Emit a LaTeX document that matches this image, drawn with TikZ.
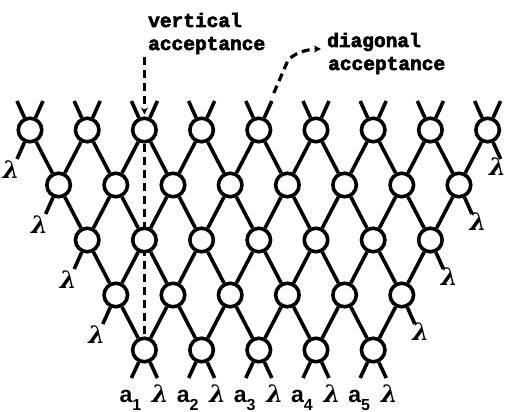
\documentclass[tikz,border=0pt]{standalone}
\usepackage{fontspec}
\usetikzlibrary{arrows.meta,calc}
\newfontfamily\annfont{Liberation Mono}[BoldFeatures={FakeBold=3}]
\newfontfamily\labfont{Liberation Sans}
\newfontfamily\lamfont{DejaVu Serif}
\pgfdeclarelayer{bg}
\pgfsetlayers{bg,main}
\tikzset{
  ball/.style={circle,draw=black,fill=white,line width=3.6pt,minimum size=23.5pt,inner sep=0pt},
  edge/.style={line width=3.6pt,black},
  acc/.style={line width=3.2pt,dash pattern=on 8pt off 5pt},
  ann/.style={font=\annfont\bfseries\fontsize{19.5}{23}\selectfont,inner sep=0pt,anchor=base west},
  lam/.style={font=\lamfont\bfseries\itshape\fontsize{24}{24}\selectfont,inner sep=0pt},
  alab/.style={font=\labfont\bfseries\fontsize{23}{23}\selectfont,inner sep=0pt,anchor=base},
  tip/.style={-{Stealth[length=7pt,width=7pt]}}
}
\begin{document}
\begin{tikzpicture}[x=1pt,y=-1pt]
\useasboundingbox (0,0) rectangle (506,412);
% circles
\foreach \r in {0,...,4}{
  \pgfmathtruncatemacro\kmax{8-\r}
  \foreach \k in {0,...,\kmax}{
    \node[ball] (n-\r-\k) at ({30+(\r/2+\k)*57.2},{130+55*\r}) {};
  }
}
% lattice
\foreach \r in {0,...,3}{
  \pgfmathtruncatemacro\kmax{8-\r}
  \pgfmathtruncatemacro\rn{\r+1}
  \foreach \k in {0,...,\kmax}{
    \pgfmathtruncatemacro\km{\k-1}
    \ifnum\k>0 \draw[edge] (n-\r-\k) -- (n-\rn-\km); \fi
    \ifnum\k<\kmax \draw[edge] (n-\r-\k) -- (n-\rn-\k); \fi
  }
}
% top stubs
\foreach \k in {0,...,8}{
  \coordinate (tl-\k) at ($(n-0-\k)+(-13,-29)$);
  \coordinate (tr-\k) at ($(n-0-\k)+(13,-29)$);
  \draw[edge] (n-0-\k) -- (tl-\k);
  \draw[edge] (n-0-\k) -- (tr-\k);
}
% side stubs and labels
\foreach \r in {0,...,3}{
  \pgfmathtruncatemacro\kmax{8-\r}
  \coordinate (ll-\r) at ($(n-\r-0)+(-13,29)$);
  \draw[edge] (n-\r-0) -- (ll-\r);
  \node[lam] (ll-lab-\r) at ($(n-\r-0)+(-19,40)$) {λ};
  \coordinate (rr-\r) at ($(n-\r-\kmax)+(13,29)$);
  \draw[edge] (n-\r-\kmax) -- (rr-\r);
}
\node[lam] (rr-lab-0) at ($(n-0-8)+(10,37)$) {λ};
\foreach \r in {1,...,3}{
  \pgfmathtruncatemacro\kmax{8-\r}
  \node[lam] (rr-lab-\r) at ($(n-\r-\kmax)+(19,37)$) {λ};
}
% bottom stubs and labels
\foreach \k in {0,...,4}{
  \pgfmathtruncatemacro\kk{\k+1}
  \coordinate (bl-\k) at ($(n-4-\k)+(-13,28)$);
  \coordinate (br-\k) at ($(n-4-\k)+(13,28)$);
  \draw[edge] (n-4-\k) -- (bl-\k);
  \draw[edge] (n-4-\k) -- (br-\k);
  \node[alab] (a-\k) at ($(n-4-\k)+(-14,52)$) {a\raisebox{-8pt}{\fontsize{16}{16}\selectfont\kk}};
  \node[lam,anchor=base] (bl-lab-\k) at ($(n-4-\k)+(16,52)$) {λ};
}
% annotations
\node[ann] (vt1) at (148,27) {vertical};
\node[ann] (vt2) at (148,50) {acceptance};
\node[ann] (dg1) at (327,47) {diagonal};
\node[ann] (dg2) at (328,70) {acceptance};
% vertical acceptance
\coordinate (v0) at (144.4,57);
\draw[acc,tip,shorten >=2pt] (v0) -- (n-0-2.north);
\begin{pgfonlayer}{bg}
  \draw[acc] (n-0-2) -- (n-4-0);
\end{pgfonlayer}
% diagonal acceptance
\coordinate (d0) at ($(tr-4)+(2,-8)$);
\coordinate (d1) at (321,49);
\draw[acc,tip] (d0) -- ($(d0)+(13,-30)$) .. controls +(4,-10) and +(-12,0) .. (d1);
\end{tikzpicture}
\end{document}
